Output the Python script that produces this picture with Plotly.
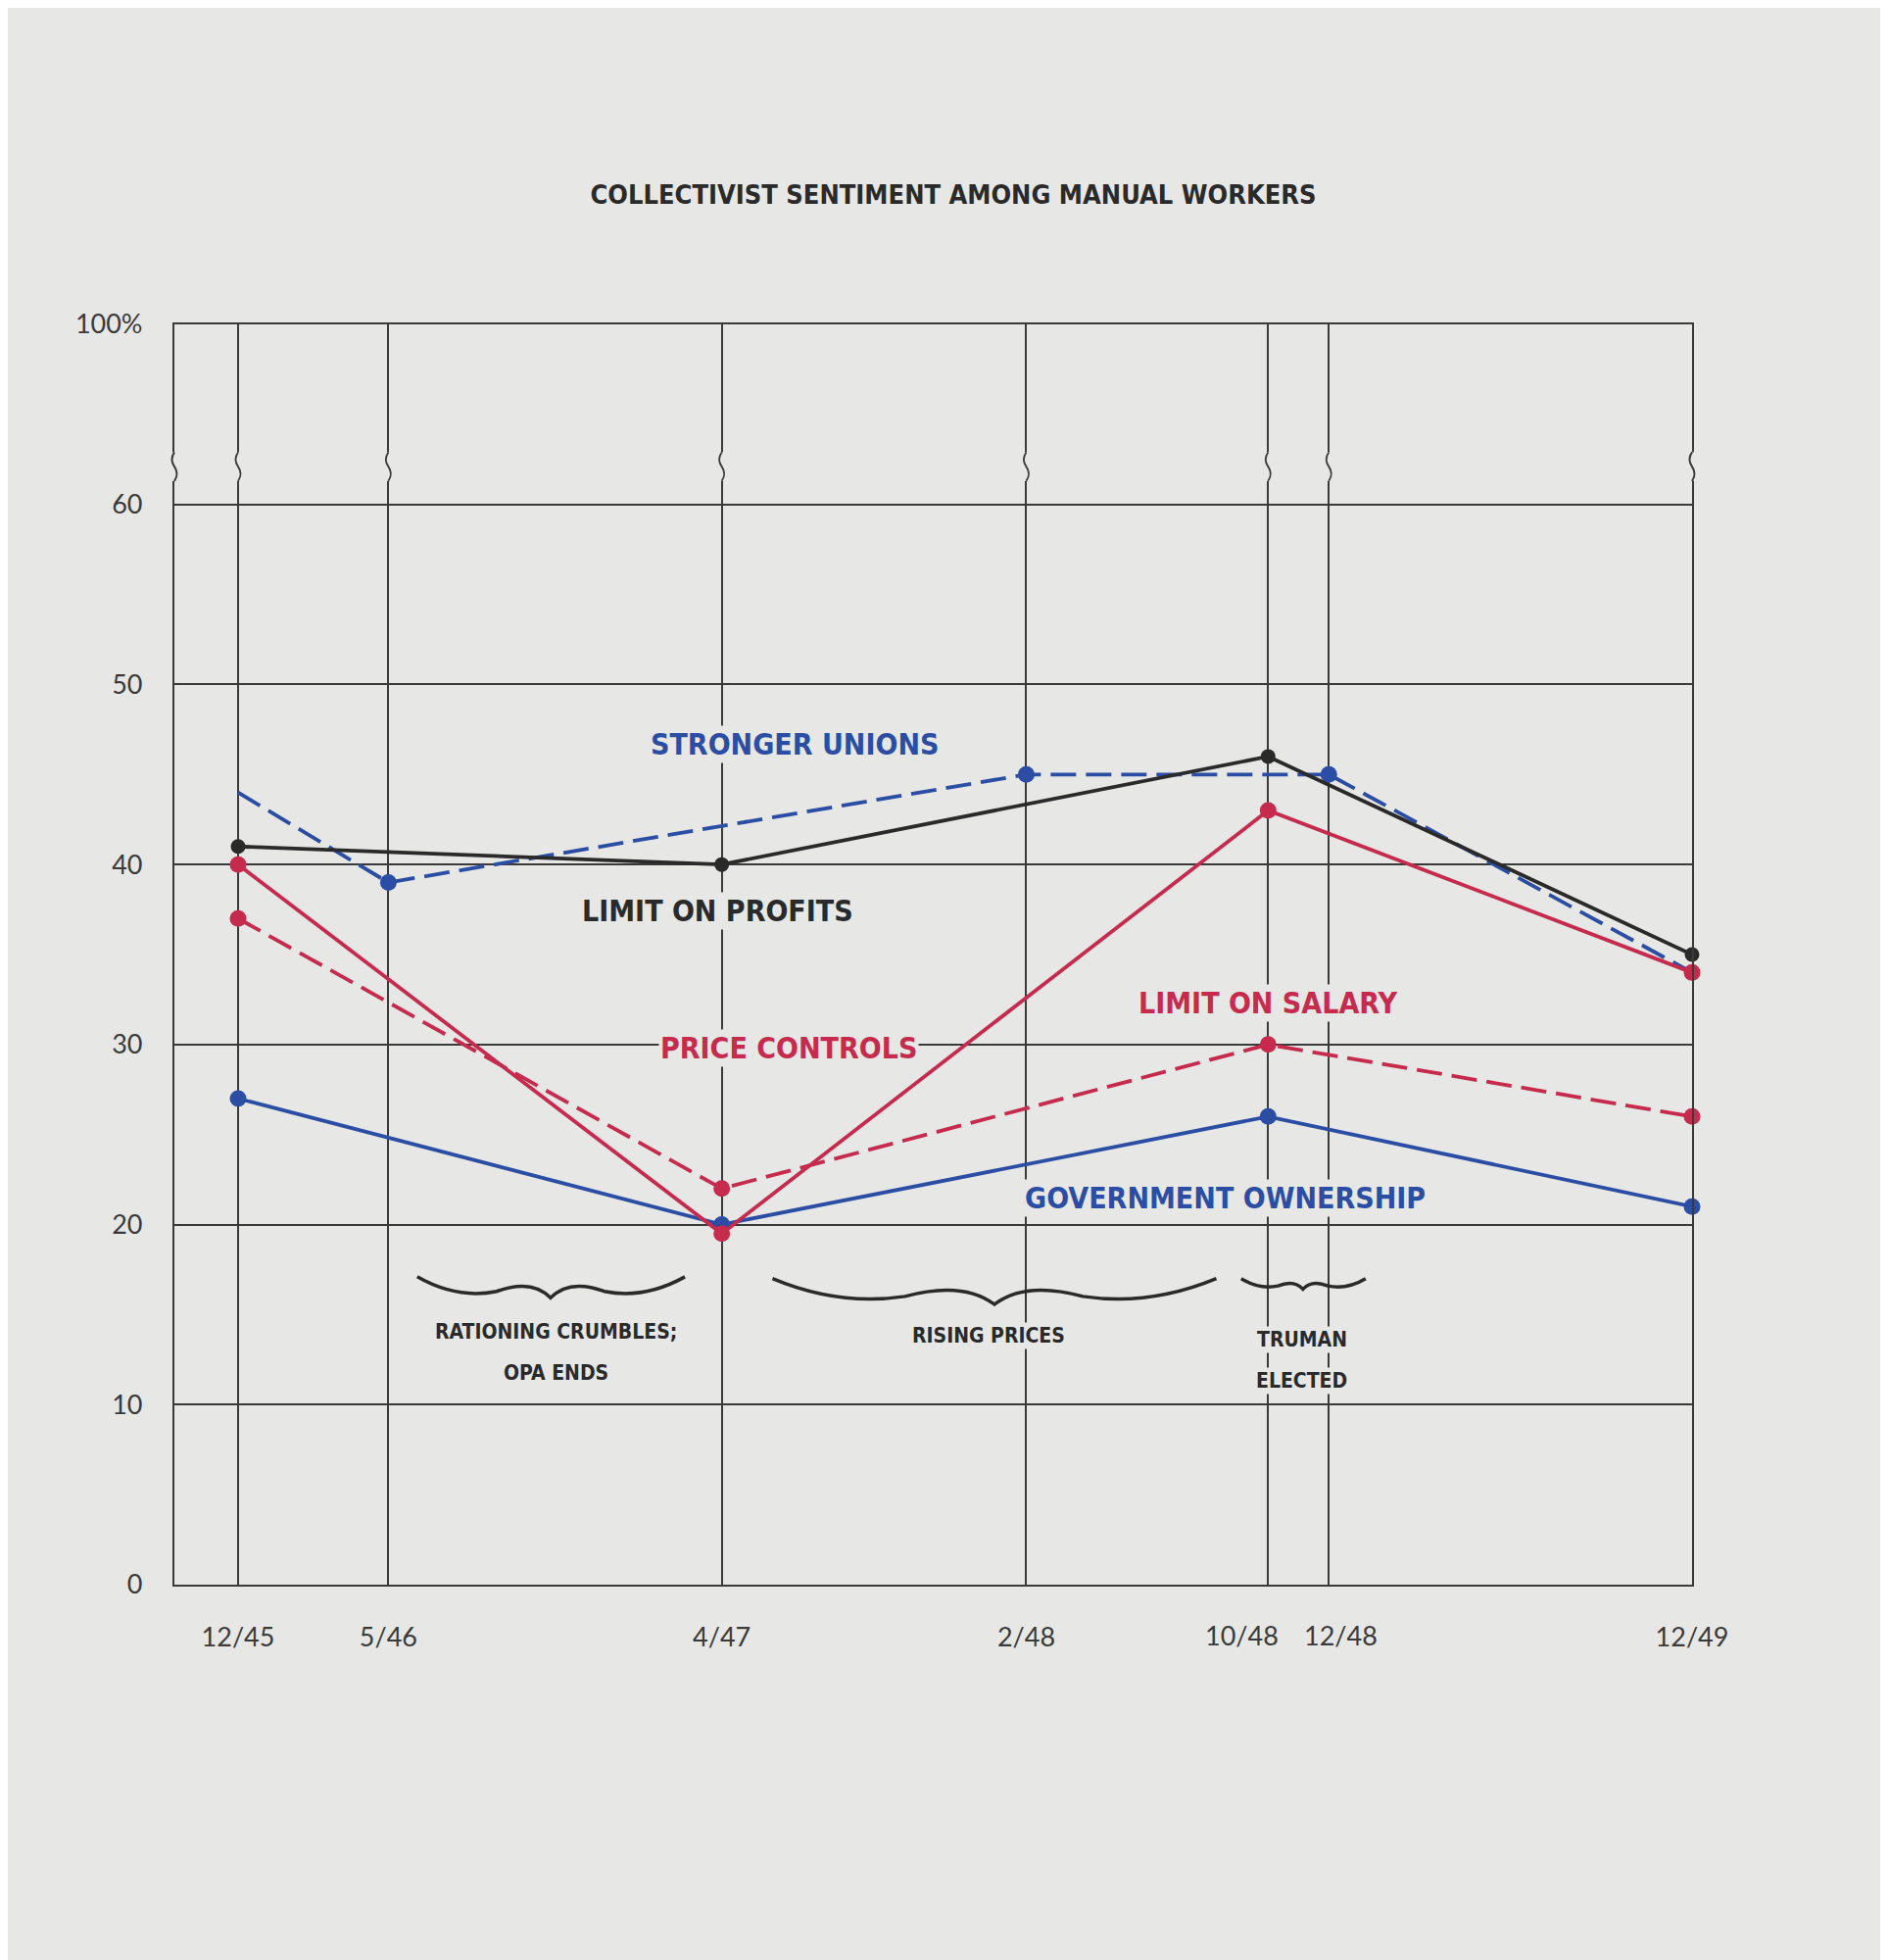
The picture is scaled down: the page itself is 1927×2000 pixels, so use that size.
import pandas as pd
import plotly.graph_objects as go

# Survey dates on the x axis and their printed labels
dates = ["1945-12-01", "1946-05-01", "1947-04-01", "1948-02-01",
         "1948-10-01", "1948-12-01", "1949-12-01"]
date_labels = ["12/45", "5/46", "4/47", "2/48", "10/48", "12/48", "12/49"]

# Questions asked at 12/45, 4/47, 10/48 and 12/49
core_dates = ["1945-12-01", "1947-04-01", "1948-10-01", "1949-12-01"]
limit_on_profits = [41, 40, 46, 35]
price_controls = [40, 19.5, 43, 34]
limit_on_salary = [37, 22, 30, 26]
government_ownership = [27, 20, 26, 21]

# "Stronger unions" was asked on a different schedule
unions_dates = ["1945-12-01", "1946-05-01", "1948-02-01", "1948-12-01", "1949-12-01"]
stronger_unions = [44, 39, 45, 45, 34]
unions_marked = [False, True, True, True, False]

# broken axis: the top line stands for 100%
y_ticks = [0, 10, 20, 30, 40, 50, 60, 70]
y_tick_labels = ["0", "10", "20", "30", "40", "50", "60", "100%"]

PAPER = "#e7e8e6"
INK = "#2a2a2a"
GRID = "#3a3a3a"
RED = "#c62a4d"
BLUE = "#2b4ea4"
NARROW = "Liberation Sans Narrow, Arial Narrow, DejaVu Sans Condensed, sans-serif"
TICKFONT = dict(family="Lato, sans-serif", size=27, color="#3a3a3a")
X_LEFT = "1945-09-28"
Y_TOP = 70

# the two crowded 1948 labels are pushed apart a little (pixels)
label_nudge = {"10/48": -27, "12/48": 12}
tick_text = ["" if lab in label_nudge else lab for lab in date_labels]


def series(x, y, color, dash="solid", sizes=17):
    return go.Scatter(
        x=x, y=y, mode="lines+markers",
        line=dict(color=color, width=3.8, dash=dash),
        marker=dict(color=color, size=sizes, opacity=1, line=dict(width=0)),
        cliponaxis=False, hoverinfo="skip", showlegend=False,
    )


def brace_path(x0, x1, y, amp):
    """Horizontal curly brace, tip pointing down."""
    t0, t1 = pd.Timestamp(x0), pd.Timestamp(x1)

    def p(f, dy):
        t = t0 + (t1 - t0) * f
        return f"{t.strftime('%Y-%m-%d')},{y + dy * amp:.3f}"

    return (f"M {p(0, 0)} Q {p(0.15, -1.4)} {p(0.3, -0.9)} "
            f"Q {p(0.43, -0.1)} {p(0.5, -1.3)} "
            f"Q {p(0.57, -0.1)} {p(0.7, -0.9)} "
            f"Q {p(0.85, -1.4)} {p(1, 0)}")


def squiggle(xs, xl, xr, y0, y1):
    ym, yq1, yq3 = (y0 + y1) / 2, y0 + (y1 - y0) / 4, y0 + 3 * (y1 - y0) / 4
    return f"M {xs},{y0} Q {xr},{yq1} {xs},{ym} Q {xl},{yq3} {xs},{y1}"


fig = go.Figure()
dash = "26px,10px"
fig.add_trace(series(unions_dates, stronger_unions, BLUE, dash,
                     [17 if m else 0 for m in unions_marked]))
fig.add_trace(series(core_dates, limit_on_profits, INK, sizes=15))
fig.add_trace(series(core_dates, government_ownership, BLUE))
fig.add_trace(series(core_dates, limit_on_salary, RED, dash))
fig.add_trace(series(core_dates, price_controls, RED))

# break marks on every vertical line (borders in paper units so they are not clipped)
B0, B1 = 61.3, 62.9
shapes = []
for x in dates[:-1]:
    t = pd.Timestamp(x)
    xl = (t - pd.Timedelta(days=5)).strftime("%Y-%m-%d")
    xr = (t + pd.Timedelta(days=5)).strftime("%Y-%m-%d")
    xs = t.strftime("%Y-%m-%d")
    shapes.append(dict(type="line", xref="x", yref="y", x0=xs, x1=xs, y0=B0, y1=B1,
                       line=dict(color=PAPER, width=6), layer="above"))
    shapes.append(dict(type="path", xref="x", yref="y", layer="above",
                       path=squiggle(xs, xl, xr, B0, B1),
                       line=dict(color=GRID, width=1.8)))
dx = 5 / 1549
for xp in [0, 1]:
    shapes.append(dict(type="line", xref="paper", yref="paper", x0=xp, x1=xp,
                       y0=B0 / Y_TOP, y1=B1 / Y_TOP,
                       line=dict(color=PAPER, width=7), layer="above"))
    shapes.append(dict(type="path", xref="paper", yref="paper", layer="above",
                       path=squiggle(xp, xp - dx, xp + dx, B0 / Y_TOP, B1 / Y_TOP),
                       line=dict(color=GRID, width=2)))

# event braces
for x0, x1, y, amp in [("1946-05-30", "1947-02-23", 17.1, 0.9),
                       ("1947-05-22", "1948-08-10", 17.0, 1.1),
                       ("1948-09-04", "1949-01-07", 17.0, 0.45)]:
    shapes.append(dict(type="path", xref="x", yref="y", layer="above",
                       path=brace_path(x0, x1, y, amp),
                       line=dict(color=INK, width=3.5)))

labels = [
    ("STRONGER UNIONS", "1947-06-13", 46.7, BLUE, 30),
    ("LIMIT ON PROFITS", "1947-03-28", 37.4, INK, 30),
    ("PRICE CONTROLS", "1947-06-07", 29.8, RED, 30),
    ("LIMIT ON SALARY", "1948-10-01", 32.3, RED, 30),
    ("GOVERNMENT OWNERSHIP", "1948-08-19", 21.5, BLUE, 30),
    ("RATIONING CRUMBLES;", "1946-10-16", 14.05, INK, 21),
    ("OPA ENDS", "1946-10-16", 11.75, INK, 21),
    ("RISING PRICES", "1947-12-25", 13.8, INK, 21),
    ("TRUMAN", "1948-11-04", 13.6, INK, 21),
    ("ELECTED", "1948-11-04", 11.3, INK, 21),
]
annotations = [
    dict(text=t, x=x, y=y, xref="x", yref="y", showarrow=False,
         font=dict(family=NARROW, size=s, color=c, weight="bold"),
         bgcolor=PAPER, borderpad=1)
    for t, x, y, c, s in labels
]
# nudged date labels drawn under their gridlines
for lab, shift in label_nudge.items():
    annotations.append(dict(text=lab, x=dates[date_labels.index(lab)], y=0,
                            xref="x", yref="paper", yanchor="top", yshift=-33,
                            xshift=shift, showarrow=False, font=TICKFONT))

fig.update_layout(
    width=1927, height=2000,
    paper_bgcolor=PAPER, plot_bgcolor=PAPER,
    margin=dict(l=170, r=208, t=323, b=391),
    showlegend=False,
    title=dict(text="COLLECTIVIST SENTIMENT AMONG MANUAL WORKERS",
               x=0.5008, xanchor="center", y=0.9045, yanchor="middle",
               font=dict(family=NARROW, size=27, color=INK, weight="bold")),
    shapes=shapes,
    annotations=annotations,
)
fig.update_xaxes(
    type="date", range=[X_LEFT, dates[-1]],
    tickmode="array", tickvals=dates, ticktext=tick_text, tickangle=0,
    showgrid=True, gridcolor=GRID, gridwidth=1.5,
    showline=True, mirror=True, linecolor=GRID, linewidth=2.2,
    ticks="", zeroline=False, ticklabelstandoff=28, tickfont=TICKFONT,
)
fig.update_yaxes(
    range=[0, Y_TOP], tickmode="array", tickvals=y_ticks, ticktext=y_tick_labels,
    showgrid=True, gridcolor=GRID, gridwidth=1.5,
    showline=True, mirror=True, linecolor=GRID, linewidth=2.2,
    ticks="", zeroline=False, ticklabelstandoff=25, tickfont=TICKFONT,
)

fig.write_html("out.html")
